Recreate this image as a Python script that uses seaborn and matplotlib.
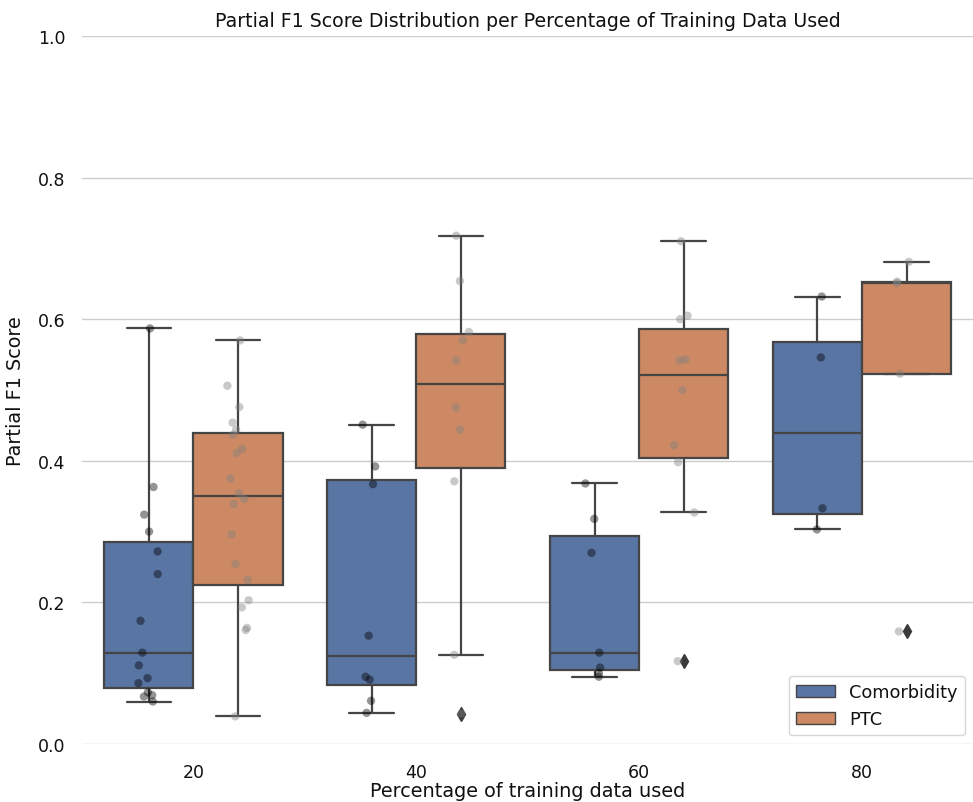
import numpy as np
import pandas as pd
import matplotlib
matplotlib.use("Agg")
import matplotlib.pyplot as plt
import seaborn as sns

# Partial F1 scores, per training share and task
percentages = [20, 40, 60, 80]
tasks = ["Comorbidity", "PTC"]

comorb_20 = [0.587, 0.363, 0.324, 0.300, 0.272, 0.240, 0.174, 0.129, 0.111,
             0.093, 0.086, 0.073, 0.069, 0.067, 0.060]
ptc_20 = [0.570, 0.506, 0.476, 0.454, 0.444, 0.437, 0.417, 0.411, 0.375, 0.354,
          0.346, 0.339, 0.296, 0.254, 0.232, 0.203, 0.193, 0.164, 0.161, 0.039]
comorb_40 = [0.451, 0.392, 0.367, 0.153, 0.095, 0.091, 0.061, 0.044]
ptc_40 = [0.718, 0.654, 0.582, 0.570, 0.542, 0.475, 0.444, 0.371, 0.126, 0.043]
comorb_60 = [0.368, 0.318, 0.270, 0.129, 0.108, 0.100, 0.095]
ptc_60 = [0.710, 0.605, 0.600, 0.543, 0.542, 0.500, 0.422, 0.398, 0.327, 0.117]
comorb_80 = [0.632, 0.546, 0.333, 0.303]
ptc_80 = [0.681, 0.653, 0.651, 0.523, 0.159]

scores = {
    (20, "Comorbidity"): comorb_20, (20, "PTC"): ptc_20,
    (40, "Comorbidity"): comorb_40, (40, "PTC"): ptc_40,
    (60, "Comorbidity"): comorb_60, (60, "PTC"): ptc_60,
    (80, "Comorbidity"): comorb_80, (80, "PTC"): ptc_80,
}

rows = []
for (pct, task), vals in scores.items():
    for v in vals:
        rows.append({"pct": pct, "Task": task, "score": v})
df = pd.DataFrame(rows)

sns.set_theme(style="whitegrid", rc={"text.color": "#111111", "axes.labelcolor": "#111111",
                                     "xtick.color": "#111111", "ytick.color": "#111111"})
np.random.seed(3)

fig, ax = plt.subplots(figsize=(9.73, 8.03), dpi=100)
fig.subplots_adjust(left=82 / 973, right=973.5 / 973, top=1 - 37 / 803, bottom=1 - 745 / 803)

sns.boxplot(
    data=df, x="pct", y="score", hue="Task", hue_order=tasks,
    order=percentages, palette="deep", linecolor="#454545", linewidth=1.6,
    flierprops={"marker": "d", "markerfacecolor": "#3a3a3a",
                "markeredgecolor": "#3a3a3a", "markersize": 7},
    ax=ax,
)
sns.stripplot(
    data=df, x="pct", y="score", hue="Task", hue_order=tasks,
    order=percentages, dodge=True, palette=["black", "gray"], alpha=0.42,
    size=6, legend=False, ax=ax,
)

ax.set_ylim(0, 1.0)
ax.set_title("Partial F1 Score Distribution per Percentage of Training Data Used",
             fontsize=13.7, pad=7)
ax.set_xlabel("Percentage of training data used", fontsize=13.9, labelpad=0)
ax.set_ylabel("Partial F1 Score", fontsize=13.9, labelpad=9)
ax.tick_params(axis="y", labelsize=12.5, length=0, pad=12)
ax.tick_params(axis="x", labelsize=12.5, length=0, pad=14)
sns.despine(left=True, bottom=True)
leg = ax.legend(loc="lower right", fontsize=12.8, frameon=True, handlelength=2.2)
for h in leg.legend_handles:
    h.set_linewidth(1.0)

plt.savefig("out.png", dpi=100)
